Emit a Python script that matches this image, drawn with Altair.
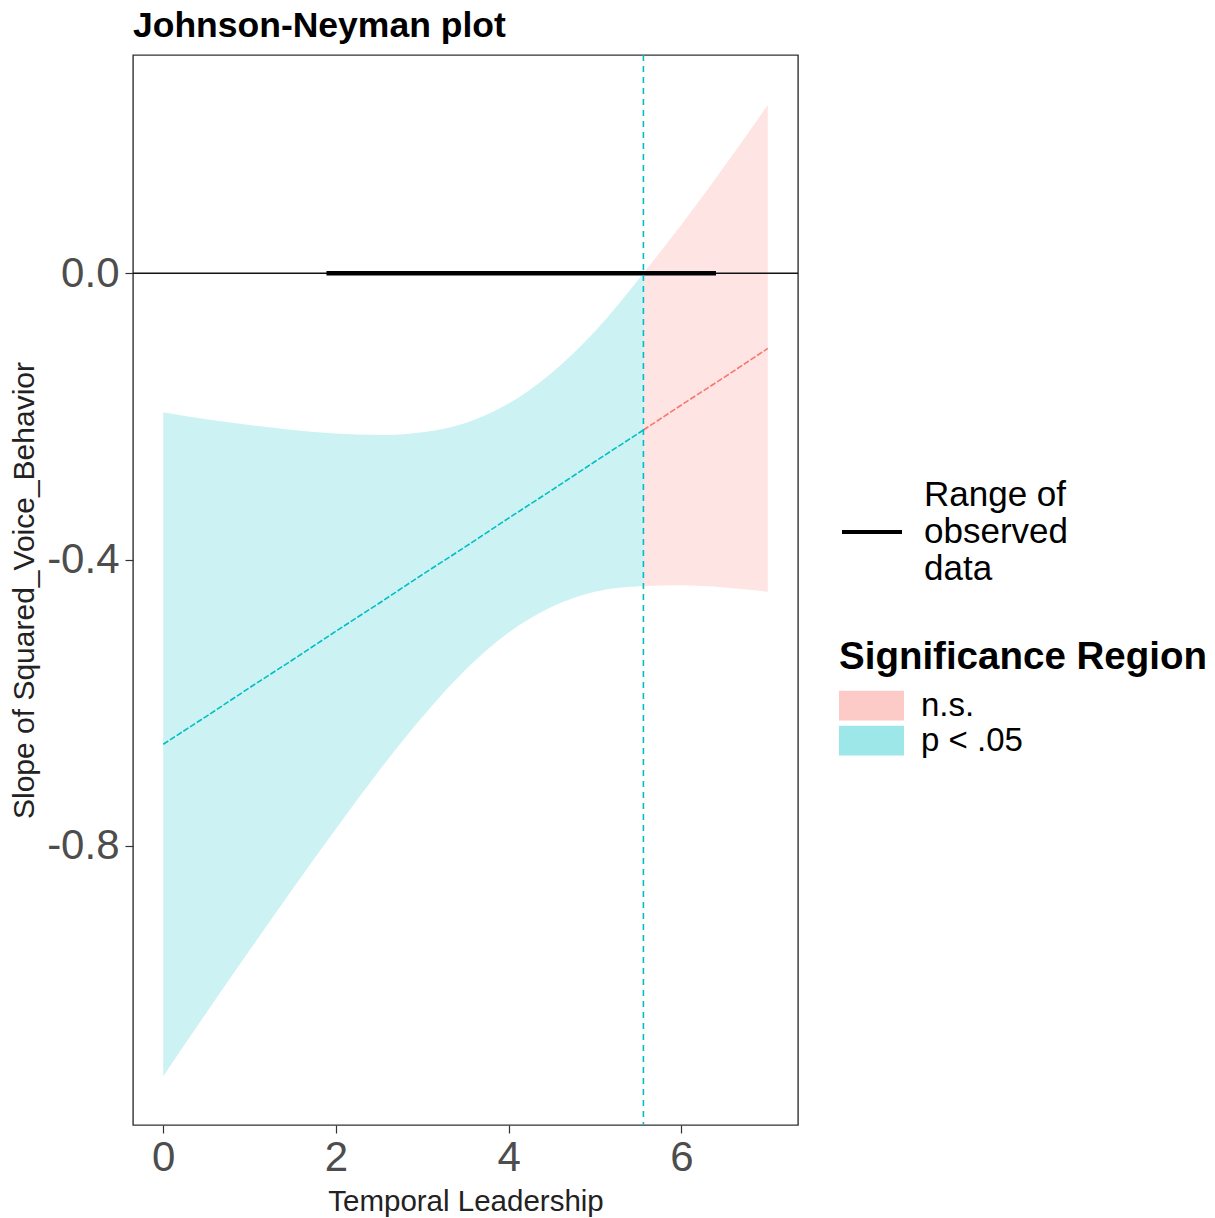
import altair as alt
import pandas as pd

# Values
xs = [0.0, 0.5, 1.0, 1.5, 2.0, 2.5, 3.0, 3.5, 4.0, 4.5, 5.0, 5.56, 6.0, 6.5, 7.0]
slope = [-0.658, -0.619, -0.579, -0.540, -0.500, -0.461, -0.421, -0.382, -0.342,
         -0.303, -0.263, -0.219, -0.184, -0.145, -0.105]
upper = [-0.194, -0.204, -0.212, -0.219, -0.224, -0.226, -0.222, -0.209, -0.182,
         -0.139, -0.081, 0.000, 0.068, 0.150, 0.235]
lower = [-1.122, -1.033, -0.946, -0.860, -0.776, -0.695, -0.620, -0.554, -0.502,
         -0.466, -0.445, -0.437, -0.436, -0.439, -0.445]
jn_point = [5.56]
observed_range = [1.89, 6.40]
regions = ["n.s.", "p < .05"]
region_colors = ["#F8766D", "#00BFC4"]

rows = []
for x, s, u, l in zip(xs, slope, upper, lower):
    if x <= jn_point[0]:
        rows.append({"x": x, "slope": s, "upper": u, "lower": l, "region": "p < .05"})
    if x >= jn_point[0]:
        rows.append({"x": x, "slope": s, "upper": u, "lower": l, "region": "n.s."})
df = pd.DataFrame(rows)

jn_df = pd.DataFrame({"x": jn_point})
zero_df = pd.DataFrame({"y": [0.0]})
range_df = pd.DataFrame({"x": [observed_range[0]], "x2": [observed_range[1]], "y": [0.0],
                         "label": ["Range of observed data"]})

FONT = "Liberation Sans"
xscale = alt.Scale(domain=[-0.35, 7.35], nice=False, zero=False)
yscale = alt.Scale(domain=[-1.19, 0.305], nice=False, zero=False)

color_scale = alt.Scale(domain=regions, range=region_colors)

xaxis = alt.Axis(values=[0, 2, 4, 6], format="d", title="Temporal Leadership",
                 grid=False, domain=False, tickColor="#333333", tickSize=8, tickWidth=1.2,
                 labelFontSize=42, labelColor="#4D4D4D", labelPadding=4,
                 titleFontSize=29.5, titleFontWeight="normal", titleColor="#222222",
                 titlePadding=9, labelFont=FONT, titleFont=FONT)
yaxis = alt.Axis(values=[0, -0.4, -0.8], title="Slope of Squared_Voice_Behavior",
                 labelExpr="replace(format(datum.value, '.1f'), '\u2212', '-')",
                 grid=False, domain=False, tickColor="#333333", tickSize=8, tickWidth=1.2,
                 labelFontSize=42, labelColor="#4D4D4D", labelPadding=6,
                 titleFontSize=30, titleFontWeight="normal", titleColor="#222222",
                 titlePadding=7, labelFont=FONT, titleFont=FONT)

sig_legend = alt.Legend(
    title="Significance Region", orient="none", legendX=706, legendY=584,
    symbolType="M-1,-0.46H1V0.46H-1Z", symbolSize=4225, symbolOpacity=0.38,
    symbolStrokeWidth=0, labelFontSize=33, titleFontSize=38.5, titleFontWeight="bold",
    titleColor="black", labelColor="black", labelFont=FONT, titleFont=FONT,
    labelOffset=17, clipHeight=30, rowPadding=2, titlePadding=13, padding=0,
    labelLimit=0, titleLimit=0,
)

band = alt.Chart(df).mark_area(opacity=0.2, interpolate="monotone").encode(
    x=alt.X("x:Q", scale=xscale, axis=xaxis),
    y=alt.Y("lower:Q", scale=yscale, axis=yaxis),
    y2="upper:Q",
    color=alt.Color("region:N", scale=color_scale, legend=sig_legend),
    detail="region:N",
)

line = alt.Chart(df).mark_line(strokeWidth=1.6, strokeDash=[6, 2]).encode(
    x="x:Q",
    y="slope:Q",
    color=alt.Color("region:N", scale=color_scale, legend=sig_legend),
    detail="region:N",
)

zero = alt.Chart(zero_df).mark_rule(color="#111111", strokeWidth=1.4).encode(y="y:Q")

rng = alt.Chart(range_df).mark_rule(strokeWidth=4.5).encode(
    x="x:Q", x2="x2:Q", y="y:Q",
    stroke=alt.Stroke("label:N", scale=alt.Scale(domain=["Range of observed data"], range=["black"]),
                      legend=alt.Legend(title=None, orient="none", legendX=707, legendY=408,
                                        symbolType="M-1,1.23L1,1.23", symbolSize=3600,
                                        symbolStrokeWidth=4, symbolFillColor="transparent",
                                        labelExpr="['Range of', 'observed', 'data']",
                                        labelFontSize=35, labelColor="black", labelFont=FONT,
                                        labelOffset=20, padding=0, labelLimit=0)),
)

jn = alt.Chart(jn_df).mark_rule(color="#00BFC4", strokeWidth=1.6, strokeDash=[6, 5]).encode(x="x:Q")

chart = alt.layer(band, line, zero, rng, jn).properties(
    width=665, height=1070,
    title=alt.Title("Johnson-Neyman plot", anchor="start", frame="group", fontSize=35.5,
                    fontWeight="bold", font=FONT, color="black", offset=10),
    autosize=alt.AutoSizeParams(type="none"),
    padding={"left": 133, "top": 55, "right": 417, "bottom": 93},
    background="white",
).configure_view(stroke="#333333", strokeWidth=1.4)

chart.save("out.html", embed_options={"renderer": "svg", "actions": False})
